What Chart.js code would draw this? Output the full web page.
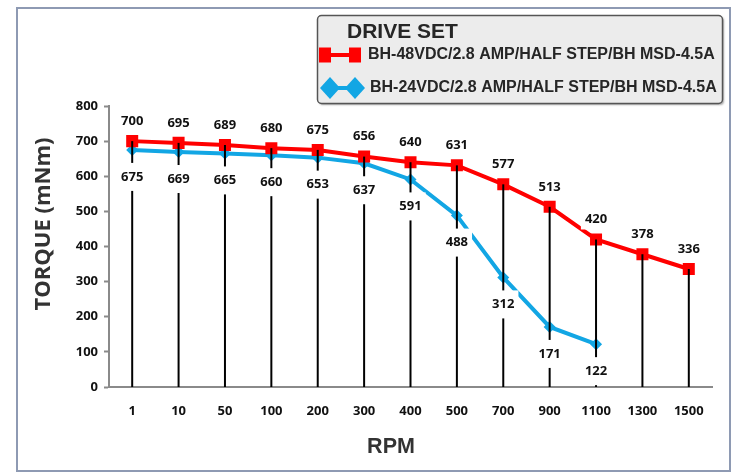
<!DOCTYPE html>
<html>
<head>
<meta charset="utf-8">
<script src="https://cdn.jsdelivr.net/npm/chart.js@4.4.1/dist/chart.umd.min.js"></script>
<style>
html, body { margin: 0; padding: 0; background: #fff; }
#frame { position: absolute; left: 16px; top: 7px; width: 711px; height: 461px; border: 2px solid #8e9ab3; }
#wrap { position: absolute; left: 0; top: 0; width: 733px; height: 473px; }
</style>
</head>
<body>
<div id="frame"></div>
<div id="wrap"><canvas id="torque-chart"></canvas></div>
<script>
// RPM categories along the bottom
const rpm = ['1', '10', '50', '100', '200', '300', '400', '500', '700', '900', '1100', '1300', '1500'];

// torque in mNm
const torque48 = [700, 695, 689, 680, 675, 656, 640, 631, 577, 513, 420, 378, 336];
const torque24 = [675, 669, 665, 660, 653, 637, 591, 488, 312, 171, 122, null, null];

const seriesNames = ['BH-48VDC/2.8 AMP/HALF STEP/BH MSD-4.5A', 'BH-24VDC/2.8 AMP/HALF STEP/BH MSD-4.5A'];
const legendTitle = 'DRIVE SET';
const xTitle = 'RPM';
const yTitle = 'TORQUE (mNm)';

const yMin = 0;
const yMax = 800;
const yStep = 100;

const RED = '#ff0000';
const BLUE = '#12a6e4';
const TXT = '#262626';

// black drop lines + boxed value labels (like the excel data labels)
const dropLines = {
    id: 'dropLines',
    afterDatasetsDraw(chart) {
        const ctx = chart.ctx;
        const yScale = chart.scales.y;
        const top = chart.getDatasetMeta(0).data;
        const low = chart.getDatasetMeta(1).data;
        const zero = yScale.getPixelForValue(0);

        ctx.save();
        ctx.strokeStyle = '#000';
        ctx.lineWidth = 2;
        top.forEach(pt => {
            ctx.beginPath();
            ctx.moveTo(pt.x, pt.y);
            ctx.lineTo(pt.x, zero);
            ctx.stroke();
        });

        ctx.font = 'bold 13px "Open Sans"';
        ctx.textAlign = 'center';
        ctx.textBaseline = 'middle';
        function label(txt, cx, cy, h) {
            const w = ctx.measureText(txt).width + 8;
            ctx.fillStyle = '#fff';
            ctx.fillRect(cx - w / 2, cy - h / 2, w, h);
            ctx.fillStyle = '#111';
            ctx.fillText(txt, cx, cy);
        }
        torque48.forEach((v, i) => label(String(v), top[i].x, top[i].y - 20, 20));
        torque24.forEach((v, i) => {
            if (v == null) return;
            label(String(v), low[i].x, low[i].y + 27, 28);
        });
        ctx.restore();
    }
};

// axis titles sit a bit off-centre in the original, so draw them here
const axisTitles = {
    id: 'axisTitles',
    afterDraw(chart) {
        const ctx = chart.ctx;
        ctx.save();
        ctx.fillStyle = '#333';
        ctx.textAlign = 'center';
        ctx.textBaseline = 'middle';
        ctx.font = 'bold 21.5px "Liberation Sans"';
        ctx.fillText(xTitle, 391, 447);
        ctx.translate(44, 224);
        ctx.rotate(-Math.PI / 2);
        ctx.font = 'bold 22px "Open Sans"';
        ctx.fillText(yTitle, 0, 0);
        ctx.restore();
    }
};

// legend box top right
const driveLegend = {
    id: 'driveLegend',
    afterDraw(chart) {
        const ctx = chart.ctx;
        ctx.save();
        ctx.shadowColor = 'rgba(0,0,0,0.35)';
        ctx.shadowOffsetX = 1.5;
        ctx.shadowOffsetY = 1.5;
        ctx.shadowBlur = 2;
        ctx.beginPath();
        ctx.roundRect(317.5, 15.5, 405, 88, 4);
        ctx.fillStyle = '#ececec';
        ctx.fill();
        ctx.shadowColor = 'transparent';
        ctx.strokeStyle = '#555';
        ctx.lineWidth = 1.5;
        ctx.stroke();

        ctx.fillStyle = TXT;
        ctx.textBaseline = 'middle';
        ctx.font = 'bold 21px "Liberation Sans"';
        ctx.fillText(legendTitle, 347, 32);

        // red item
        ctx.strokeStyle = RED;
        ctx.lineWidth = 4;
        ctx.beginPath();
        ctx.moveTo(325, 55);
        ctx.lineTo(355, 55);
        ctx.stroke();
        ctx.fillStyle = RED;
        ctx.fillRect(319, 47.5, 12, 15);
        ctx.fillRect(349, 47.5, 12, 15);

        // blue item
        ctx.strokeStyle = BLUE;
        ctx.beginPath();
        ctx.moveTo(330, 88);
        ctx.lineTo(355, 88);
        ctx.stroke();
        ctx.fillStyle = BLUE;
        [330, 355].forEach(cx => {
            ctx.beginPath();
            ctx.moveTo(cx - 10, 88);
            ctx.lineTo(cx, 77);
            ctx.lineTo(cx + 10, 88);
            ctx.lineTo(cx, 99);
            ctx.closePath();
            ctx.fill();
        });

        ctx.fillStyle = TXT;
        ctx.font = 'bold 16px "Liberation Sans"';
        ctx.fillText(seriesNames[0], 368, 55);
        ctx.fillText(seriesNames[1], 370, 88);
        ctx.restore();
    }
};

const tickFont = { family: 'Open Sans', weight: 'bold', size: 13 };

const torqueChart = new Chart(document.getElementById('torque-chart'), {
    type: 'line',
    data: {
        labels: rpm,
        datasets: [{
            label: seriesNames[0],
            data: torque48,
            borderColor: RED,
            backgroundColor: RED,
            borderWidth: 4,
            pointStyle: 'rect',
            pointRadius: 8.5,
            pointBorderWidth: 0,
            tension: 0
        }, {
            label: seriesNames[1],
            data: torque24,
            borderColor: BLUE,
            backgroundColor: BLUE,
            borderWidth: 4,
            pointStyle: 'rectRot',
            pointRadius: 6,
            pointBorderWidth: 0,
            tension: 0
        }]
    },
    options: {
        responsive: true,
        maintainAspectRatio: false,
        animation: false,
        layout: { padding: { left: 0, top: 106, right: 21, bottom: 0 } },
        plugins: {
            legend: { display: false },
            tooltip: { enabled: false }
        },
        scales: {
            x: {
                offset: true,
                grid: { display: true, drawOnChartArea: false, drawTicks: false },
                border: { color: '#8a8a8a', width: 2 },
                ticks: { color: '#111', font: tickFont, padding: 16, maxRotation: 0 },
                afterFit: s => { s.height = 86; }
            },
            y: {
                min: yMin,
                max: yMax,
                grid: { drawOnChartArea: false, tickLength: 5, tickColor: '#8a8a8a', tickWidth: 2 },
                border: { color: '#8a8a8a', width: 2 },
                ticks: { stepSize: yStep, color: '#111', font: tickFont, padding: 6 },
                afterFit: s => { s.width = 109; }
            }
        }
    },
    plugins: [dropLines, axisTitles, driveLegend]
});
</script>
</body>
</html>
